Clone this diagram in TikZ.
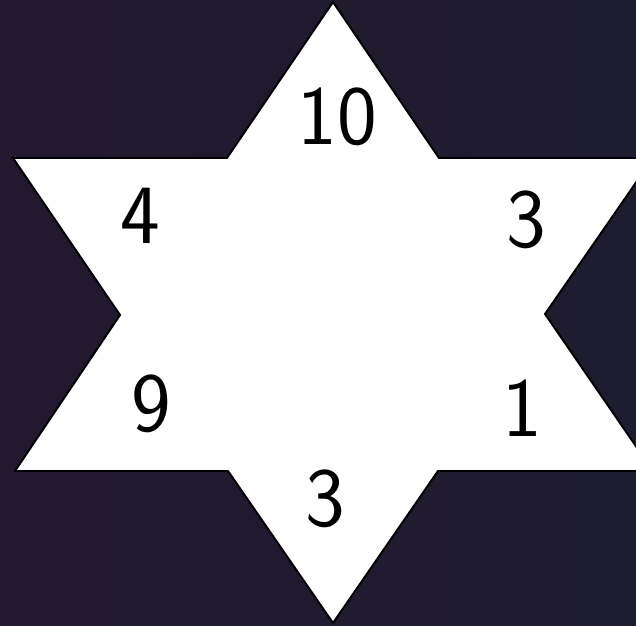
\documentclass[tikz,border=0pt]{standalone}
\usepackage{tikz}

\definecolor{bgleft}{RGB}{35,25,46}
\definecolor{bgright}{RGB}{30,28,48}

\begin{document}
\begin{tikzpicture}[x=0.03cm, y=-0.03cm, font=\sffamily\fontsize{72}{72}\selectfont,
    num/.style={inner sep=0pt, text=black}]
  \useasboundingbox (0,0) rectangle (636,626);
  \shade[left color=bgleft, right color=bgright] (0,0) rectangle (636,626);
  \clip (0,0) rectangle (636,626);
  % outer tips
  \coordinate (tt) at (333,2);
  \coordinate (tr) at (653,158);
  \coordinate (br) at (653,471);
  \coordinate (bb) at (333,623);
  \coordinate (bl) at (15,471);
  \coordinate (tl) at (13,158);
  % inner corners
  \coordinate (itr) at (439,158);
  \coordinate (ir)  at (545,314);
  \coordinate (ibr) at (438,471);
  \coordinate (ibl) at (228,471);
  \coordinate (il)  at (120,315);
  \coordinate (itl) at (227,158);
  \draw[fill=white, line width=1.7pt]
    (tt) -- (itr) -- (tr) -- (ir) -- (br) -- (ibr) -- (bb)
    -- (ibl) -- (bl) -- (il) -- (tl) -- (itl) -- cycle;
  % numbers
  \node[num] (ntop)   at (337,117) {10};
  \node[num] (nleft)  at (140,216) {4};
  \node[num] (nright) at (526,220) {3};
  \node[num] (nlow)   at (151,404) {9};
  \node[num] (nlowr)  at (522,408) {1};
  \node[num] (nbot)   at (325,499) {3};
\end{tikzpicture}
\end{document}
